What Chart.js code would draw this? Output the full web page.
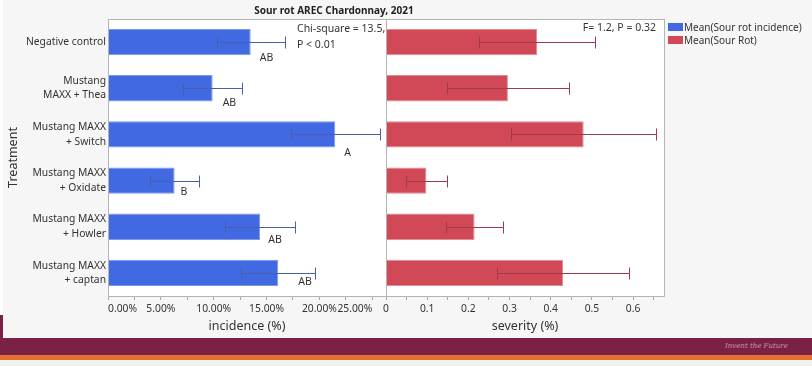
<!DOCTYPE html>
<html>
<head>
<meta charset="utf-8">
<script src="https://cdn.jsdelivr.net/npm/chart.js@4.4.0/dist/chart.umd.min.js"></script>
<style>
  body { margin: 0; width: 812px; height: 366px; overflow: hidden; background: #f1f1f1; font-family: "Noto Sans", sans-serif; color: #333; }
  #report { position: absolute; left: 0; top: 0; width: 812px; height: 338px; background: #f6f6f6; }
  #edge { position: absolute; left: 0; top: 0; width: 3px; height: 315px; background: #fff; }
  #edge2 { position: absolute; left: 0; top: 315px; width: 3px; height: 23px; background: #7b2146; }
  #band { position: absolute; left: 0; top: 338px; width: 812px; height: 17px; background: #7b2146; }
  #stripe { position: absolute; left: 0; top: 355px; width: 812px; height: 5px; background: #e8702f; }
  #motto { position: absolute; left: 725px; top: 342px; font: italic 7px "DejaVu Serif", serif; color: rgba(255,255,255,0.55); }
  canvas { position: absolute; left: 0; top: 0; }
  .txt { position: absolute; font-size: 10.5px; line-height: 14px; white-space: nowrap; color: #333; }
  #title { left: 0; width: 668px; top: 3px; text-align: center; font-weight: bold; font-size: 10px; color: #222; }
  .lg { font-size: 10px; }
  .sw { display: inline-block; width: 15px; height: 8px; margin-right: 1px; }
</style>
</head>
<body>
<div id="report"></div>
<div id="edge"></div>
<div id="edge2"></div>
<div id="band"></div>
<div id="stripe"></div>
<div id="motto">Invent the Future</div>
<canvas id="incidenceChart" width="812" height="338"></canvas>
<canvas id="severityChart" width="812" height="338"></canvas>
<div class="txt" id="title">Sour rot AREC Chardonnay, 2021</div>
<div class="txt" style="left:297px; top:20px; line-height:16px;">Chi-square = 13.5,<br>P &lt; 0.01</div>
<div class="txt" style="left:556px; width:100px; top:20px; text-align:right;">F= 1.2, P = 0.32</div>
<div class="txt lg" style="left:668px; top:20px;"><span class="sw" style="background:#4169e1"></span>Mean(Sour rot incidence)</div>
<div class="txt lg" style="left:668px; top:33px;"><span class="sw" style="background:#d14857"></span>Mean(Sour Rot)</div>

<script>
// treatments and the two response means with their error half-widths
const treatments = [
  ['Negative control'],
  ['Mustang', 'MAXX + Thea'],
  ['Mustang MAXX', '+ Switch'],
  ['Mustang MAXX', '+ Oxidate'],
  ['Mustang MAXX', '+ Howler'],
  ['Mustang MAXX', '+ captan']
];
const incidence = [13.5, 9.9, 21.5, 6.3, 14.4, 16.1];      // %
const incidenceErr = [3.2, 2.8, 4.2, 2.3, 3.3, 3.5];
const letters = ['AB', 'AB', 'A', 'B', 'AB', 'AB'];
const severity = [0.367, 0.296, 0.48, 0.098, 0.215, 0.43];
const severityErr = [0.141, 0.148, 0.176, 0.05, 0.07, 0.16];
const incidenceTicks = [0, 5, 10, 15, 20, 25];
const severityTicks = [0, 0.1, 0.2, 0.3, 0.4, 0.5, 0.6];

// letter placement relative to bar end / bar centre (px)
const letterNudge = [[9, 16], [10, 15], [9, 19], [6, 11], [8, 13], [20, 9]];

const FONT = 'Noto Sans';
const BLUE = '#4169e1', RED = '#d14857';

// white plot background + grey frame
const plotFrame = {
  id: 'plotFrame',
  beforeDraw(chart) {
    const { ctx, chartArea: a } = chart;
    ctx.save();
    ctx.fillStyle = '#fff';
    ctx.fillRect(a.left, a.top, a.right - a.left, a.bottom - a.top);
    ctx.restore();
  },
  afterDraw(chart) {
    const { ctx, chartArea: a } = chart;
    ctx.save();
    ctx.strokeStyle = '#b4b4b4';
    ctx.lineWidth = 1;
    ctx.strokeRect(Math.round(a.left) + 0.5, Math.round(a.top) + 0.5, Math.round(a.right - a.left), Math.round(a.bottom - a.top));
    ctx.restore();
  }
};

// horizontal error bars with end caps, plus the grouping letters
const errorBars = {
  id: 'errorBars',
  afterDatasetsDraw(chart, args, opts) {
    const { ctx, scales: { x, y } } = chart;
    const vals = chart.data.datasets[0].data;
    ctx.save();
    ctx.strokeStyle = opts.color;
    ctx.lineWidth = 1;
    vals.forEach((v, i) => {
      const e = opts.err[i];
      const yc = Math.round(y.getPixelForValue(i)) + 0.5;
      const x0 = Math.round(x.getPixelForValue(v - e)) + 0.5;
      const x1 = Math.round(x.getPixelForValue(v + e)) + 0.5;
      ctx.beginPath();
      ctx.moveTo(x0, yc); ctx.lineTo(x1, yc);
      ctx.moveTo(x0, yc - 6); ctx.lineTo(x0, yc + 6);
      ctx.moveTo(x1, yc - 6); ctx.lineTo(x1, yc + 6);
      ctx.stroke();
    });
    if (opts.letters) {
      ctx.fillStyle = '#333';
      ctx.font = '10.5px "' + FONT + '"';
      ctx.textBaseline = 'middle';
      vals.forEach((v, i) => {
        const [dx, dy] = letterNudge[i];
        ctx.fillText(opts.letters[i], x.getPixelForValue(v) + dx, y.getPixelForValue(i) + dy);
      });
    }
    ctx.restore();
  }
};

function xScale(max, title, labelled, fmt, align) {
  return {
    min: 0,
    max: max,
    afterFit: s => { s.height = 42; },
    border: { display: false },
    grid: { drawOnChartArea: false, tickLength: 4, color: '#a8a8a8' },
    ticks: {
      stepSize: labelled[1] / 2,
      includeBounds: false,
      maxRotation: 0,
      autoSkip: false,
      align: align,
      padding: 3,
      color: '#333',
      font: { family: FONT, size: 10.3 },
      callback: v => labelled.some(t => Math.abs(t - v) < 1e-6) ? fmt(v) : ''
    },
    title: { display: true, text: title, color: '#333', font: { family: FONT, size: 12.5 }, padding: { top: 0, bottom: 4 } }
  };
}

Chart.defaults.animation = false;

new Chart(document.getElementById('incidenceChart'), {
  type: 'bar',
  data: {
    labels: treatments,
    datasets: [{
      label: 'Mean(Sour rot incidence)',
      data: incidence,
      backgroundColor: BLUE,
      borderColor: '#7d98ea',
      borderWidth: 1,
      barPercentage: 0.57,
      categoryPercentage: 1
    }]
  },
  options: {
    indexAxis: 'y',
    responsive: false,
    layout: { padding: { left: 0, right: 812 - 386, top: 19, bottom: 0 } },
    plugins: {
      legend: { display: false },
      tooltip: { enabled: false },
      errorBars: { err: incidenceErr, color: '#4a5fa8', letters: letters }
    },
    scales: {
      x: xScale(26.3, 'incidence (%)', incidenceTicks, v => v.toFixed(2) + '%', 'inner'),
      y: {
        afterFit: s => { s.width = 108; },
        border: { display: false },
        grid: { display: false, drawTicks: false },
        ticks: { color: '#333', padding: 2, font: { family: FONT, size: 10.3, lineHeight: 1.4 } },
        title: { display: true, text: 'Treatment', color: '#333', font: { family: FONT, size: 12.5 }, padding: { top: 6, bottom: 0 } }
      }
    }
  },
  plugins: [plotFrame, errorBars]
});

new Chart(document.getElementById('severityChart'), {
  type: 'bar',
  data: {
    labels: treatments,
    datasets: [{
      label: 'Mean(Sour Rot)',
      data: severity,
      backgroundColor: RED,
      borderColor: '#e08a95',
      borderWidth: 1,
      barPercentage: 0.57,
      categoryPercentage: 1
    }]
  },
  options: {
    indexAxis: 'y',
    responsive: false,
    layout: { padding: { left: 386, right: 812 - 664, top: 19, bottom: 0 } },
    plugins: {
      legend: { display: false },
      tooltip: { enabled: false },
      errorBars: { err: severityErr, color: '#a33a4c' }
    },
    scales: {
      x: xScale(0.675, 'severity (%)', severityTicks, v => String(Math.round(v * 10) / 10), 'center'),
      y: { display: false }
    }
  },
  plugins: [plotFrame, errorBars]
});
</script>
</body>
</html>
